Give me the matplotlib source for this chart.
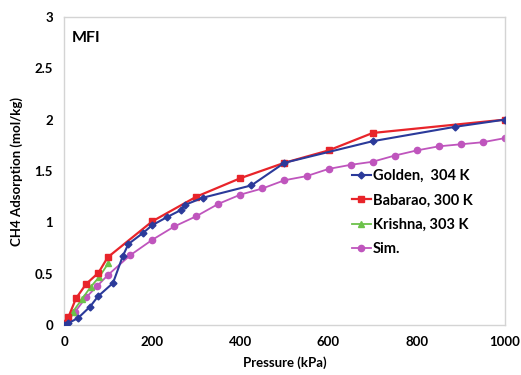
import matplotlib

matplotlib.use("Agg")

import matplotlib.pyplot as plt

# Golden, 304 K
golden_p = [0, 10, 32, 59, 77, 111, 133, 146, 180, 199, 233, 265, 274, 315, 425, 500, 700, 887, 1000]
golden_q = [0, 0.02, 0.07, 0.18, 0.28, 0.41, 0.67, 0.79, 0.90, 0.97, 1.05, 1.12, 1.17, 1.24, 1.36, 1.58, 1.79, 1.93, 2.0]

# Babarao, 300 K
babarao_p = [0, 10, 27, 50, 78, 99, 200, 300, 400, 500, 600, 700, 1000]
babarao_q = [0.02, 0.08, 0.26, 0.40, 0.51, 0.66, 1.01, 1.25, 1.43, 1.58, 1.70, 1.87, 2.0]

# Krishna, 303 K
krishna_p = [0, 20, 40, 60, 80, 100]
krishna_q = [-0.03, 0.13, 0.25, 0.37, 0.47, 0.60]

# Simulation
sim_p = [0, 25, 50, 75, 100, 150, 200, 250, 300, 350, 400, 450, 500, 550, 600,
         650, 700, 750, 800, 850, 900, 950, 1000]
sim_q = [0, 0.13, 0.27, 0.38, 0.49, 0.68, 0.83, 0.96, 1.06, 1.18, 1.27, 1.33, 1.41,
         1.45, 1.52, 1.56, 1.59, 1.65, 1.70, 1.74, 1.76, 1.78, 1.82]

x_ticks = [0, 200, 400, 600, 800, 1000]
y_ticks = [0, 0.5, 1, 1.5, 2, 2.5, 3]
y_tick_labels = ["0", "0.5", "1", "1.5", "2", "2.5", "3"]

plt.rcParams["font.family"] = ["Lato", "DejaVu Sans"]
plt.rcParams["font.weight"] = "bold"

fig = plt.figure(figsize=(5.21, 3.75), dpi=100)
ax = fig.add_axes([0.123, 0.133, 0.846, 0.822])

ax.plot(sim_p, sim_q, color="#bf55bd", marker="o", ms=4.5, lw=1.3, label="Sim.", zorder=2)
ax.plot(krishna_p, krishna_q, color="#6cc24a", marker="^", ms=5, lw=1.3, label="Krishna, 303 K", zorder=3)
ax.plot(babarao_p, babarao_q, color="#e8242a", marker="s", ms=5, lw=1.6, label="Babarao, 300 K", zorder=4)
ax.plot(golden_p, golden_q, color="#2b3a9a", marker="D", ms=3.5, lw=1.5, label="Golden,  304 K", zorder=5)

ax.set_xlim(0, 1000)
ax.set_ylim(0, 3)
ax.set_xticks(x_ticks)
ax.set_yticks(y_ticks)
ax.set_yticklabels(y_tick_labels)
ax.tick_params(length=0, labelsize=9.5, pad=8)
for spine in ax.spines.values():
    spine.set_color("#d4d4d4")
    spine.set_linewidth(1.0)

ax.set_xlabel("Pressure (kPa)", fontsize=9.5, fontweight="bold", labelpad=6)
ax.set_ylabel("CH4 Adsorption (mol/kg)", fontsize=9.5, fontweight="bold", labelpad=8)
ax.text(0.018, 0.955, "MFI", transform=ax.transAxes, fontsize=11.5, fontweight="bold", va="top")

handles, labels = ax.get_legend_handles_labels()
order = [3, 2, 1, 0]
ax.legend([handles[i] for i in order], [labels[i] for i in order],
          loc="center left", bbox_to_anchor=(0.64, 0.365), frameon=False,
          fontsize=10.5, handlelength=1.3, handletextpad=0.15, labelspacing=0.72,
          borderaxespad=0)

fig.savefig("out.png", dpi=100, facecolor="white")
